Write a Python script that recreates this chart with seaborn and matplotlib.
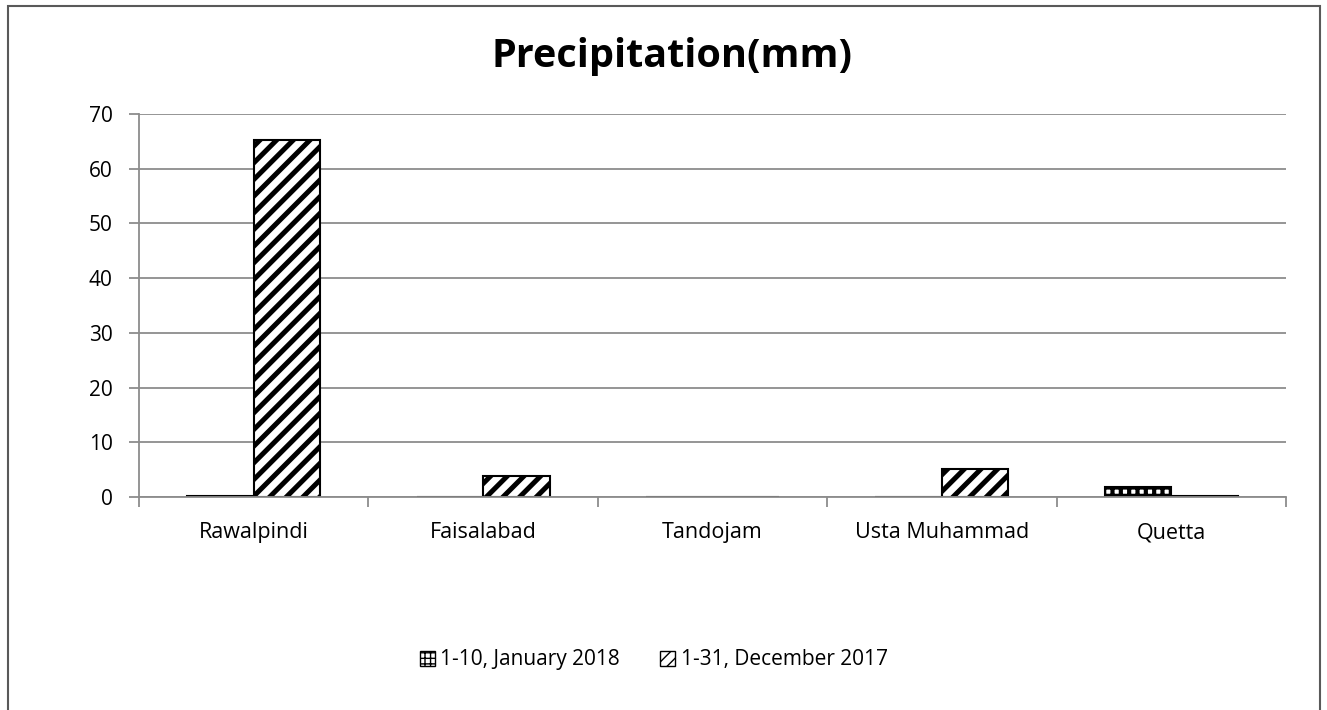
import matplotlib
matplotlib.use("Agg")
import matplotlib.pyplot as plt
import seaborn as sns
import pandas as pd
from matplotlib.patches import Rectangle, Patch
from matplotlib.ticker import FixedLocator

categories = ["Rawalpindi", "Faisalabad", "Tandojam", "Usta Muhammad", "Quetta"]
series_names = ["1-10, January 2018", "1-31, December 2017"]
jan_2018 = [0.1, 0.0, 0.0, 0.0, 1.9]
dec_2017 = [65.2, 3.8, 0.0, 5.1, 0.1]
y_ticks = [0, 10, 20, 30, 40, 50, 60, 70]

df = pd.DataFrame({
    "city": categories * 2,
    "series": [series_names[0]] * 5 + [series_names[1]] * 5,
    "value": jan_2018 + dec_2017,
})

sns.set_theme(style="white")
plt.rcParams['font.family'] = ['Open Sans', 'DejaVu Sans']

fig = plt.figure(figsize=(13.27, 7.10), dpi=100)
ax = fig.add_axes([0.1047, 0.3, 0.8644, 0.5394])

sns.barplot(data=df, x="city", y="value", hue="series", ax=ax,
            palette=["white", "white"], edgecolor="black", linewidth=1.5,
            width=0.58, gap=0, legend=False, errorbar=None)

hatches = ["++", "//"]
hatch_lw = [3.0, 3.6]
n = len(categories)
for i, bar in enumerate(ax.patches[:2 * n]):
    k = i // n
    bar.set_hatch(hatches[k])
    bar.set_edgecolor("black")
    try:
        bar.set_hatch_linewidth(hatch_lw[k])
    except AttributeError:
        pass

ax.set_ylim(0, 70)
ax.set_yticks(y_ticks)
ax.set_xlim(-0.5, n - 0.5)
ax.yaxis.grid(True, color="#8c8c8c", linewidth=1.3)
ax.set_axisbelow(True)
for s in ["top", "right"]:
    ax.spines[s].set_visible(False)
for s in ["left", "bottom"]:
    ax.spines[s].set_color("#8c8c8c")
    ax.spines[s].set_linewidth(1.3)
ax.tick_params(axis="y", left=True, length=7, color="#8c8c8c", width=1.3,
               labelsize=15, pad=12, labelcolor="black")
ax.tick_params(axis="x", bottom=False, labelsize=15.5, pad=12, labelcolor="black")
ax.xaxis.set_minor_locator(FixedLocator([i - 0.5 for i in range(n + 1)]))
ax.tick_params(axis="x", which="minor", bottom=True, length=7, color="#8c8c8c", width=1.3)
ax.set_xlabel("")
ax.set_ylabel("")

fig.text(672 / 1327, 1 - 67 / 710, "Precipitation(mm)", ha="center", va="baseline",
         fontsize=28.5, fontweight="bold", color="black")

handles = []
for h, lw in zip(["+++", "///"], [2.0, 2.5]):
    p = Patch(facecolor="white", edgecolor="black", hatch=h, linewidth=1)
    try:
        p.set_hatch_linewidth(lw)
    except AttributeError:
        pass
    handles.append(p)
fig.legend(handles, series_names, loc="center", bbox_to_anchor=(0.4925, 1 - 660 / 710),
           ncol=2, frameon=False, fontsize=15, handlelength=0.75, handleheight=0.75,
           handletextpad=0.25, columnspacing=1.9, labelcolor="black")

border = Rectangle((8 / 1327, -0.05), (1320 - 8) / 1327, 1.05 - 6 / 710,
                   transform=fig.transFigure, fill=False, edgecolor="#595959",
                   linewidth=1.5, clip_on=False)
fig.patches.append(border)

fig.savefig("out.png", dpi=100)
